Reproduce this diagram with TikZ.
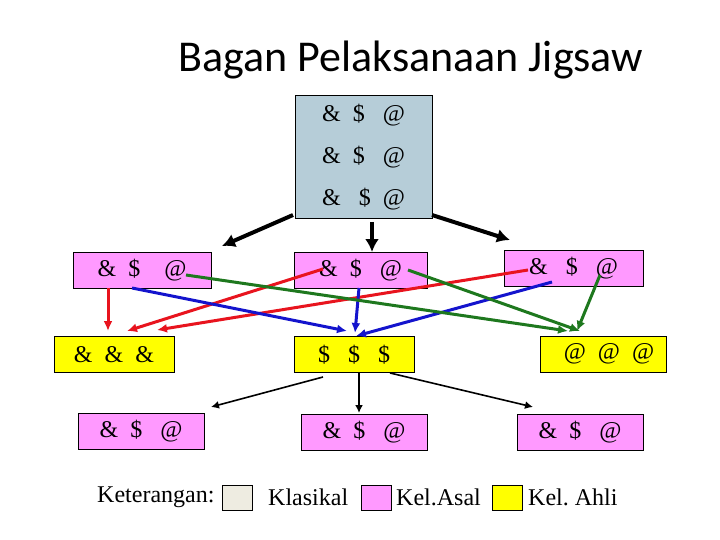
\documentclass[tikz,border=0pt]{standalone}
\usepackage{fontspec}
\setmainfont{Liberation Serif}
\newfontfamily\judulfont{Carlito}
\usetikzlibrary{arrows.meta}
\definecolor{klasikal}{RGB}{182,205,216}
\definecolor{asal}{RGB}{255,153,255}
\definecolor{ahli}{RGB}{255,255,0}
\definecolor{ketkls}{RGB}{238,236,225}
\definecolor{merah}{RGB}{232,20,30}
\definecolor{biru}{RGB}{20,20,205}
\definecolor{hijau}{RGB}{30,120,30}

\begin{document}
\begin{tikzpicture}[x=1pt,y=-1pt,
  kotak/.style={draw,line width=0.7pt,inner sep=0pt,font=\fontsize{24}{42}\selectfont},
  kasal/.style={kotak,fill=asal,minimum width=126pt,minimum height=36pt},
  kahli/.style={kotak,fill=ahli,minimum width=120pt,minimum height=36pt},
  tebal/.style={->,line width=4pt,>={Latex[length=13pt,width=14pt]}},
  tipis/.style={->,line width=1.6pt,>={Latex[length=8pt,width=8pt]}},
  warna/.style={->,line width=3pt,>={Latex[length=10pt,width=9pt]}},
  ket/.style={draw,line width=0.7pt,minimum width=30pt,minimum height=25pt,inner sep=0pt},
  teks/.style={font=\fontsize{24}{28}\selectfont,inner sep=0pt}]
  \useasboundingbox (0,0) rectangle (720,540);
  \node[font=\judulfont\fontsize{44}{50}\selectfont] (judul) at (411,60) {Bagan Pelaksanaan Jigsaw};
  \node[kotak,fill=klasikal,minimum width=137pt,minimum height=123pt,align=center] (kls) at (363.5,157)
    {\&~~\$~~~@\\ \&~~\$~~~@\\ \&~~~\$~~@};
  \node[kasal,minimum width=138pt] (asalA) at (142,270.5) {\&~~\$~~~~@};
  \node[kasal,minimum width=133pt] (asalB) at (360.5,270) {\&~~\$~~~@};
  \node[kasal,minimum width=139pt] (asalC) at (573.5,268) {\&~~~\$~~~@};
  \node[kahli] (ahliA) at (114,354.5) {\&~~\&~~\&};
  \node[kahli] (ahliB) at (354,354.5) {\$~~~\$~~~\$};
  \node[kahli,minimum width=126pt] (ahliC) at (603,354) {~~@~~@~~@};
  \node[kasal] (asalD) at (141,431.5) {\&~~\$~~~@};
  \node[kasal] (asalE) at (364,432) {\&~~\$~~~@};
  \node[kasal] (asalF) at (580,432) {\&~~\$~~~@};

  \coordinate (k1) at (293,215);
  \coordinate (k2) at (372,222);
  \coordinate (k3) at (432,215);
  \coordinate (t1) at (222,246);
  \coordinate (t2) at (372,252);
  \coordinate (t3) at (510,240);
  \draw[tebal] (k1)--(t1);
  \draw[tebal] (k2)--(t2);
  \draw[tebal] (k3)--(t3);

  \coordinate (a1) at (108,288);
  \coordinate (a2) at (323,269);
  \coordinate (a3) at (528,270);
  \coordinate (b1) at (132,288);
  \coordinate (b2) at (359,288);
  \coordinate (b3) at (552,282);
  \coordinate (c1) at (186,275);
  \coordinate (c2) at (408,270);
  \coordinate (c3) at (600,275);
  \draw[warna,merah] (a1)--(108,331);
  \draw[warna,merah] (a2)--(127,331);
  \draw[warna,merah] (a3)--(157,330);
  \draw[warna,biru] (b1)--(347,331);
  \draw[warna,biru] (b2)--(355,333);
  \draw[warna,biru] (b3)--(356,336);
  \draw[warna,hijau] (c1)--(568,331);
  \draw[warna,hijau] (c2)--(580,331);
  \draw[warna,hijau] (c3)--(577,331);

  \coordinate (s1) at (323,377);
  \coordinate (s3) at (390,373);
  \coordinate (u1) at (211,407);
  \coordinate (u3) at (533,407);
  \draw[tipis] (s1)--(u1);
  \draw[tipis] (359,372)--(359,413);
  \draw[tipis] (s3)--(u3);

  \node[teks,anchor=west] (keterangan) at (97,497) {Keterangan:};
  \node[ket,fill=ketkls] (kk) at (237.5,497.5) {};
  \node[teks,anchor=west] (lkls) at (268,497) {Klasikal};
  \node[ket,fill=asal] (ka) at (376,497.5) {};
  \node[teks,anchor=west] (lasal) at (396,497) {Kel.Asal};
  \node[ket,fill=ahli] (kh) at (507,497.5) {};
  \node[teks,anchor=west] (lahli) at (528,497) {Kel.\ Ahli};
\end{tikzpicture}
\end{document}
